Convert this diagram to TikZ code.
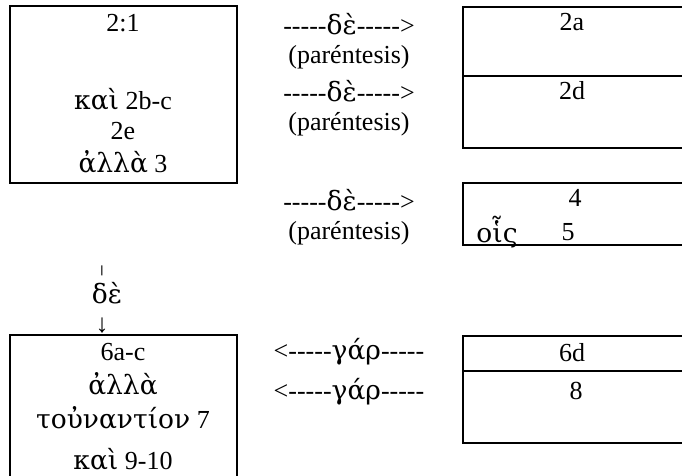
\documentclass[tikz,border=0pt]{standalone}
\usepackage{fontspec}
\setmainfont{Liberation Serif}
\newfontfamily\gk{DejaVu Serif}[Scale=1.02]
\newfontfamily\symb{DejaVu Sans}
\newcommand{\dashrun}{\mbox{-}\mbox{-}\mbox{-}\mbox{-}\mbox{-}}
\tikzset{
  panel/.style={draw, line width=1.5pt},
  txt/.style={inner sep=0pt, font=\fontsize{26}{33}\selectfont},
  small/.style={inner sep=0pt, font=\symb\bfseries\fontsize{10}{10}\selectfont}
}

\begin{document}
\begin{tikzpicture}[x=1pt,y=-1pt]
    \useasboundingbox (0,0) rectangle (682,475);
    \clip (0,0) rectangle (682,475);

    % boxes
    \draw[panel] (10,6) rectangle (237,183);
    \draw[panel] (463,7) rectangle (700,148);
    \draw[panel] (463,76) -- (700,76);
    \draw[panel] (463,183) rectangle (700,245);
    \draw[panel] (10,335) rectangle (237,500);
    \draw[panel] (463,336) rectangle (700,443);
    \draw[panel] (463,371) -- (700,371);

    % left box, top
    \node[txt] (v21) at (123,23) {2:1};
    \node[txt] (kai2) at (123,99) {{\gk καὶ} 2b-c};
    \node[txt] (v2e) at (123,131) {2e};
    \node[txt] (alla3) at (123,162) {{\gk ἀλλὰ} 3};

    % de arrows
    \node[txt] (de1) at (349,24) {\dashrun{\gk δὲ}\dashrun>};
    \node[txt] (par1) at (349,57) {(paréntesis)};
    \node[txt] (de2) at (349,91) {\dashrun{\gk δὲ}\dashrun>};
    \node[txt] (par2) at (349,124) {(paréntesis)};
    \node[txt] (de3) at (349,200) {\dashrun{\gk δὲ}\dashrun>};
    \node[txt] (par3) at (349,233) {(paréntesis)};

    % right boxes
    \node[txt] (v2a) at (572,22) {2a};
    \node[txt] (v2d) at (572,91) {2d};
    \node[txt] (v4) at (575,198) {4};
    \node[txt] (ois) at (497,232) {\gk οἷς};
    \node[txt] (v5) at (568,232) {5};

    % vertical de
    \node[small] (bar) at (102,271) {|};
    \node[txt] (de4) at (107,293) {\gk δὲ};
    \node[txt] (down) at (102,326) {↓};

    % bottom left box
    \node[txt] (v6) at (123,352) {6a-c};
    \node[txt] (alla) at (123,384) {\gk ἀλλὰ};
    \node[txt] (toun) at (123,418) {{\gk τοὐναντίον} 7};
    \node[txt] (kai9) at (123,459) {{\gk καὶ} 9-10};

    % gar arrows
    \node[txt] (gar1) at (349,352) {<\dashrun{\gk γάρ}\dashrun};
    \node[txt] (gar2) at (349,392) {<\dashrun{\gk γάρ}\dashrun};

    % bottom right box
    \node[txt] (v6d) at (572,353) {6d};
    \node[txt] (v8) at (576,391) {8};
\end{tikzpicture}
\end{document}
